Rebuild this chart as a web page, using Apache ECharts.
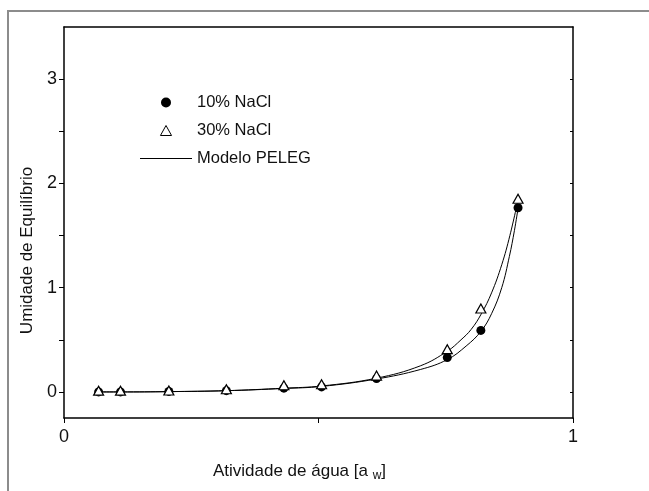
<!DOCTYPE html>
<html>
<head>
<meta charset="utf-8">
<title>Isotermas - Modelo PELEG</title>
<script src="https://cdn.jsdelivr.net/npm/echarts@6/dist/echarts.min.js"></script>
<style>
  html, body { margin: 0; padding: 0; background: #fff; }
  #chart { width: 649px; height: 491px; }
</style>
</head>
<body>
<div id="chart"></div>
<script>
// atividade de agua (pontos experimentais)
var awList = [0.068, 0.111, 0.206, 0.319, 0.432, 0.506, 0.614, 0.753, 0.819, 0.892]
var nacl10List = [0.0, 0.0, 0.005, 0.012, 0.036, 0.048, 0.128, 0.33, 0.59, 1.766]
var nacl30List = [0.012, 0.012, 0.014, 0.026, 0.064, 0.074, 0.157, 0.41, 0.80, 1.853]

// curvas do modelo
var model10Aw = [0.068, 0.111, 0.206, 0.319, 0.432, 0.506, 0.614, 0.70, 0.753, 0.79, 0.819, 0.84, 0.86, 0.875, 0.885, 0.892]
var model10M = [0.0, 0.0, 0.003, 0.012, 0.033, 0.053, 0.124, 0.215, 0.31, 0.44, 0.58, 0.75, 1.0, 1.30, 1.55, 1.76]
var model30Aw = [0.068, 0.111, 0.206, 0.319, 0.432, 0.506, 0.614, 0.70, 0.753, 0.78, 0.80, 0.82, 0.84, 0.86, 0.876, 0.892]
var model30M = [0.0, 0.0, 0.003, 0.012, 0.036, 0.057, 0.132, 0.25, 0.39, 0.50, 0.60, 0.75, 0.95, 1.22, 1.50, 1.84]

var yTicks = [0, 0.5, 1, 1.5, 2, 2.5, 3]
var yLabels = [0, 1, 2, 3]
var xTicks = [0, 0.5, 1]
var xLabels = [0, 1]

function pairs(xs, ys) {
  var out = []
  for (var i = 0; i < xs.length; i++) {
    out.push([xs[i], ys[i]])
  }
  return out
}

var font = "'Liberation Sans', Arial, sans-serif"

var chart = echarts.init(document.getElementById('chart'))
chart.setOption({
  animation: false,
  backgroundColor: '#fff',
  graphic: [{
    // moldura cinza externa
    type: 'rect',
    silent: true,
    shape: { x: 8, y: 11, width: 700, height: 600 },
    style: { fill: 'none', stroke: '#8c8c8c', lineWidth: 2 }
  }],
  grid: {
    left: 64,
    right: 76,
    top: 27,
    bottom: 73,
    containLabel: false
  },
  legend: {
    orient: 'vertical',
    left: 135,
    top: 89,
    itemWidth: 52,
    itemHeight: 10,
    itemGap: 11,
    symbolKeepAspect: true,
    textStyle: { fontFamily: font, fontSize: 16.5, color: '#111' },
    data: [
      { name: '10% NaCl', icon: 'circle' },
      { name: '30% NaCl', icon: 'path://M5,0L10,9L0,9Z', itemStyle: { borderWidth: 1 } },
      { name: 'Modelo PELEG', icon: 'path://M0,0L52,0L52,1L0,1Z' }
    ]
  },
  xAxis: [{
    type: 'value',
    min: 0,
    max: 1,
    interval: 0.5,
    name: 'Atividade de água [a {sub|w}]',
    nameLocation: 'middle',
    nameGap: 42,
    nameTextStyle: {
      fontFamily: font,
      fontSize: 17,
      color: '#111',
      padding: [0, 38, 0, 0],
      rich: {
        sub: { fontFamily: font, fontSize: 12, color: '#111', padding: [10, 0, 0, 0] }
      }
    },
    axisLine: { show: true, onZero: false, lineStyle: { color: '#000', width: 1.5 } },
    axisTick: { show: true, length: 5, customValues: xTicks, lineStyle: { color: '#000', width: 1 } },
    axisLabel: {
      customValues: xLabels,
      fontFamily: font,
      fontSize: 18,
      color: '#111',
      margin: 10
    },
    splitLine: { show: false }
  }, {
    type: 'value',
    position: 'top',
    min: 0,
    max: 1,
    interval: 0.5,
    axisLine: { show: true, onZero: false, lineStyle: { color: '#000', width: 1.5 } },
    axisTick: { show: false },
    axisLabel: { show: false },
    splitLine: { show: false }
  }],
  yAxis: [{
    type: 'value',
    min: -0.25,
    max: 3.5,
    name: 'Umidade de Equilíbrio',
    nameLocation: 'middle',
    nameRotate: 90,
    nameGap: 28,
    nameTextStyle: {
      fontFamily: font,
      fontSize: 17,
      color: '#111',
      padding: [0, 56, 0, 0]
    },
    axisLine: { show: true, onZero: false, lineStyle: { color: '#000', width: 1.5 } },
    axisTick: { show: true, length: 5, customValues: yTicks, lineStyle: { color: '#000', width: 1 } },
    axisLabel: {
      customValues: yLabels,
      fontFamily: font,
      fontSize: 18,
      color: '#111',
      margin: 7
    },
    splitLine: { show: false }
  }, {
    type: 'value',
    position: 'right',
    min: -0.25,
    max: 3.5,
    axisLine: { show: true, onZero: false, lineStyle: { color: '#000', width: 1.5 } },
    axisTick: { show: true, inside: true, length: 3, customValues: yTicks, lineStyle: { color: '#000', width: 1 } },
    axisLabel: { show: false },
    splitLine: { show: false }
  }],
  series: [
    {
      name: 'Modelo PELEG',
      type: 'line',
      data: pairs(model10Aw, model10M),
      smooth: 0.4,
      symbol: 'none',
      lineStyle: { color: '#000', width: 1 },
      itemStyle: { color: '#000' },
      z: 3
    },
    {
      name: 'Modelo PELEG',
      type: 'line',
      data: pairs(model30Aw, model30M),
      smooth: 0.4,
      symbol: 'none',
      lineStyle: { color: '#000', width: 1 },
      itemStyle: { color: '#000' },
      z: 3
    },
    {
      name: '10% NaCl',
      type: 'scatter',
      data: pairs(awList, nacl10List),
      symbol: 'circle',
      symbolSize: 9,
      itemStyle: { color: '#000', opacity: 1 },
      z: 4
    },
    {
      name: '30% NaCl',
      type: 'scatter',
      data: pairs(awList, nacl30List),
      symbol: 'triangle',
      symbolSize: [10, 9],
      itemStyle: { color: '#fff', borderColor: '#000', borderWidth: 1.2, opacity: 1 },
      z: 5
    }
  ]
})
</script>
</body>
</html>
